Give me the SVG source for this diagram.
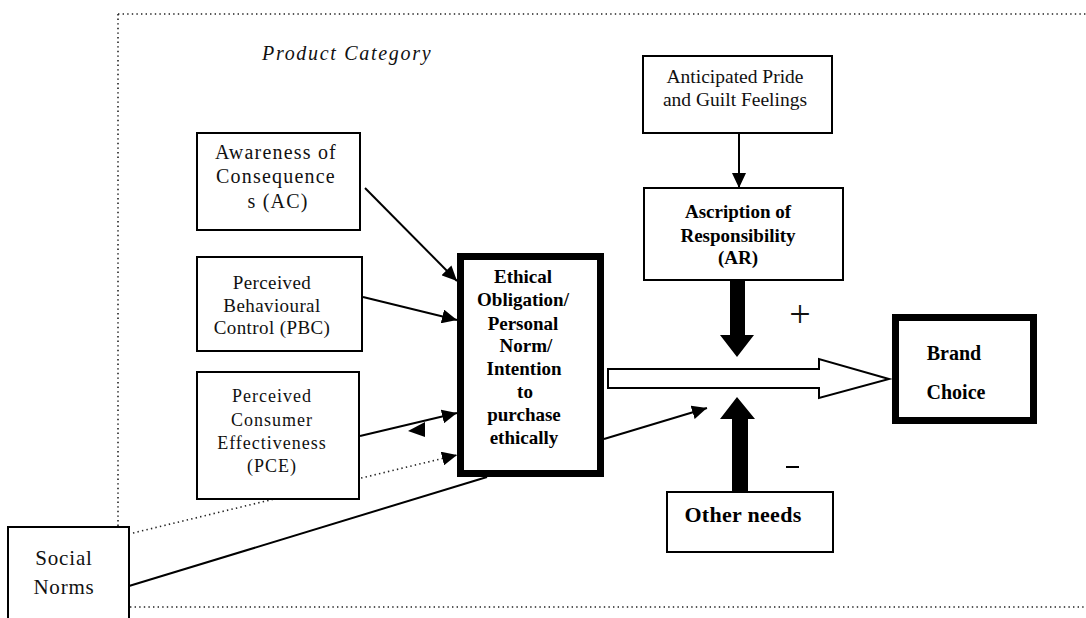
<svg xmlns="http://www.w3.org/2000/svg" width="1086" height="618" viewBox="0 0 1086 618">
<style>
.box{fill:#fff;stroke:#000;stroke-width:2}
.thick{fill:#fff;stroke:#000;stroke-width:7}
.t{font-family:"Liberation Serif","Times New Roman",serif;font-size:19px;fill:#111;text-anchor:middle}
.b{font-family:"Liberation Serif","Times New Roman",serif;font-size:19px;font-weight:bold;fill:#000;text-anchor:middle}
.ln{stroke:#000;stroke-width:2;fill:none}
.dot{stroke:#222;stroke-width:1.6;fill:none;stroke-dasharray:1.4 3.2}
</style>
<defs>
<marker id="ah" markerUnits="userSpaceOnUse" markerWidth="16" markerHeight="14" refX="15" refY="7" orient="auto">
<path d="M0,0 L15,7 L0,14 z" fill="#000"/>
</marker>
</defs>
<rect width="1086" height="618" fill="#fff"/>
<g id="frame">
<path class="dot" d="M118,14 H1086 M118,14 V527 M130,607 H1086"/>
<text x="262" y="60" style="font-family:'Liberation Serif','Times New Roman',serif;font-size:20px;font-style:italic;letter-spacing:1.7px;fill:#111">Product Category</text>
</g>
<g id="connectors">
<line class="dot" x1="133" y1="533" x2="457" y2="455" marker-end="url(#ah)"/>
<line class="ln" x1="129" y1="586" x2="487" y2="477"/>
<line class="ln" x1="365" y1="188" x2="457" y2="281" marker-end="url(#ah)"/>
<line class="ln" x1="363" y1="297" x2="457" y2="320" marker-end="url(#ah)"/>
<line class="ln" x1="360" y1="436" x2="457" y2="413" marker-end="url(#ah)"/>
<path d="M408,431 L425,422 L425,437 z" fill="#000"/>
<line class="ln" x1="604" y1="439" x2="707" y2="408" marker-end="url(#ah)"/>
<line class="ln" x1="739" y1="133" x2="739" y2="188" marker-end="url(#ah)"/>
<polygon points="608,369 819,369 819,359 889,379 819,398 819,388 608,388" fill="#fff" stroke="#000" stroke-width="2"/>
<polygon points="730,280 745,280 745,335 754,335 737,357 720,335 730,335" fill="#000"/>
<polygon points="732,492 748,492 748,419 755,419 737,397 720,419 732,419" fill="#000"/>
<text x="800" y="327" class="t" style="font-size:38px">+</text>
<line x1="786" y1="467" x2="799" y2="467" stroke="#000" stroke-width="2"/>
</g>
<g id="social-norms">
<rect class="box" x="8" y="527" width="121" height="100"/>
<text class="t" x="64" y="565" style="font-size:21px;letter-spacing:0.8px">Social</text>
<text class="t" x="64" y="594" style="font-size:21px;letter-spacing:0.8px">Norms</text>
</g>
<g id="ac">
<rect class="box" x="197" y="133" width="163" height="97"/>
<text class="t" style="font-size:20px;letter-spacing:1.2px" x="276"><tspan x="276" y="159">Awareness of</tspan><tspan x="276" y="183">Consequence</tspan><tspan x="278" y="208">s (AC)</tspan></text>
</g>
<g id="pbc">
<rect class="box" x="197" y="257" width="165" height="94"/>
<text class="t" style="letter-spacing:0.4px"><tspan x="272" y="289">Perceived</tspan><tspan x="272" y="312">Behavioural</tspan><tspan x="272" y="334">Control (PBC)</tspan></text>
</g>
<g id="pce">
<rect class="box" x="197" y="372" width="162" height="127"/>
<text class="t" style="font-size:18px;letter-spacing:1px"><tspan x="272" y="402">Perceived</tspan><tspan x="272" y="426">Consumer</tspan><tspan x="272" y="449">Effectiveness</tspan><tspan x="272" y="472">(PCE)</tspan></text>
</g>
<g id="ethical">
<rect class="thick" x="460.5" y="256.5" width="140" height="217"/>
<text class="b"><tspan x="523" y="283">Ethical</tspan><tspan x="523" y="306">Obligation/</tspan><tspan x="523" y="330">Personal</tspan><tspan x="526" y="352">Norm/</tspan><tspan x="524" y="375">Intention</tspan><tspan x="525" y="398">to</tspan><tspan x="524" y="421">purchase</tspan><tspan x="524" y="444">ethically</tspan></text>
</g>
<g id="pride">
<rect class="box" x="643" y="56" width="189" height="77"/>
<text class="t" style="font-size:19.5px"><tspan x="735" y="83">Anticipated Pride</tspan><tspan x="735" y="106">and Guilt Feelings</tspan></text>
</g>
<g id="ar">
<rect class="box" x="644" y="188" width="199" height="92"/>
<text class="b"><tspan x="738" y="218">Ascription of</tspan><tspan x="738" y="242">Responsibility</tspan><tspan x="738" y="264">(AR)</tspan></text>
</g>
<g id="brand">
<rect class="thick" x="895.5" y="317.5" width="138" height="103"/>
<text class="b" style="font-size:20px"><tspan x="954" y="360">Brand</tspan><tspan x="956" y="399">Choice</tspan></text>
</g>
<g id="other">
<rect class="box" x="667" y="492" width="166" height="60"/>
<text class="b" x="743" y="522" style="font-size:22px;letter-spacing:0.3px">Other needs</text>
</g>
</svg>
